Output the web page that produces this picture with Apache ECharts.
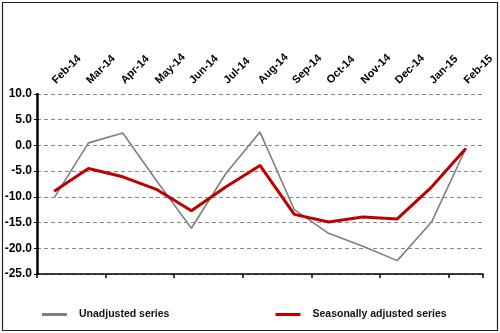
<!DOCTYPE html>
<html><head><meta charset="utf-8">
<script src="https://cdn.jsdelivr.net/npm/echarts@6/dist/echarts.min.js"></script>
<style>html,body{margin:0;padding:0;background:#fff}#c{width:500px;height:333px}</style>
</head><body><div id="c"></div>
<script>
var categories = ['Feb-14','Mar-14','Apr-14','May-14','Jun-14','Jul-14','Aug-14','Sep-14','Oct-14','Nov-14','Dec-14','Jan-15','Feb-15'];
var unadjusted = [-10.2, 0.5, 2.4, -7.0, -16.1, -5.5, 2.6, -12.5, -17.1, -19.6, -22.4, -14.9, -0.6];
var seasonallyAdjusted = [-8.9, -4.5, -6.1, -8.6, -12.7, -8.1, -3.9, -13.4, -14.9, -13.9, -14.3, -8.1, -0.6];
var yTicks = {min: -25, max: 10, interval: 5};

var chart = echarts.init(document.getElementById('c'));
var font = 'Liberation Sans';
chart.setOption({
  animation: false,
  backgroundColor: '#fff',
  grid: {left: 37, right: 17, top: 94, bottom: 59},
  graphic: [{type: 'rect', shape: {x: 2.5, y: 2.5, width: 495, height: 328}, style: {fill: 'none', stroke: '#222', lineWidth: 1.2}, silent: true}],
  legend: {
    bottom: 8, left: 37, itemGap: 106, itemWidth: 25, itemHeight: 3, icon: 'rect',
    textStyle: {fontFamily: font, fontWeight: 'bold', fontSize: 10.5, color: '#111', padding: [0, 0, 0, 7]},
    data: ['Unadjusted series', 'Seasonally adjusted series']
  },
  xAxis: [
    {type: 'category', data: categories, position: 'top', boundaryGap: true,
     axisLine: {show: false}, axisTick: {show: false}, splitLine: {show: false},
     axisLabel: {rotate: 45, margin: 12, interval: 0, fontFamily: font, fontWeight: 'bold', fontSize: 11, color: '#000'}},
    {type: 'category', data: categories, position: 'bottom', boundaryGap: true,
     axisLine: {show: true, onZero: true, lineStyle: {color: '#000', width: 1.5}},
     axisTick: {show: true, length: 4, lineStyle: {color: '#000', width: 1.5}},
     axisLabel: {show: false}, splitLine: {show: false}}
  ],
  yAxis: {
    type: 'value', min: yTicks.min, max: yTicks.max, interval: yTicks.interval,
    axisLine: {show: true, lineStyle: {color: '#000', width: 2.5}},
    axisTick: {show: true, length: 3, lineStyle: {color: '#000'}},
    axisLabel: {margin: 5, fontFamily: font, fontWeight: 'bold', fontSize: 12, color: '#000', formatter: function(v){return v.toFixed(1);}},
    splitLine: {show: true, lineStyle: {color: '#888', type: [4, 3], width: 1}}
  },
  series: [
    {name: 'Unadjusted series', type: 'line', xAxisIndex: 1, data: unadjusted, symbol: 'none',
     lineStyle: {color: '#7f7f7f', width: 1.6}, itemStyle: {color: '#7f7f7f'}},
    {name: 'Seasonally adjusted series', type: 'line', xAxisIndex: 1, data: seasonallyAdjusted, symbol: 'none',
     lineStyle: {color: '#c00000', width: 3}, itemStyle: {color: '#c00000'}}
  ]
});
</script></body></html>
